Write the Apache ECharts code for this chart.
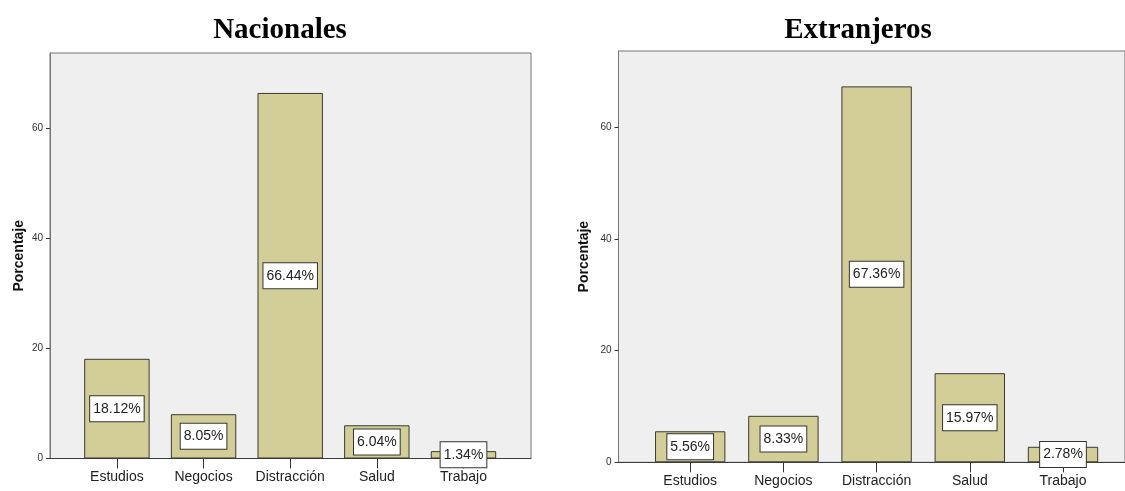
<!DOCTYPE html>
<html>
<head>
<meta charset="utf-8">
<script src="https://cdn.jsdelivr.net/npm/echarts@6/dist/echarts.min.js"></script>
<style>
  html, body { margin: 0; padding: 0; background: #ffffff; }
  #chart { width: 1125px; height: 491px; }
</style>
</head>
<body>
<div id="chart"></div>
<script>
// Motivo del viaje, en porcentaje
const categories = ['Estudios', 'Negocios', 'Distracción', 'Salud', 'Trabajo'];
const nacionales = [18.12, 8.05, 66.44, 6.04, 1.34];
const extranjeros = [5.56, 8.33, 67.36, 15.97, 2.78];
const yTicks = [0, 20, 40, 60];
const panelTitles = ['Nacionales', 'Extranjeros'];
const yName = 'Porcentaje';
const yMax = 73.7;

const BAR = '#d3ce98';
const PLOT_BG = '#efefef';

// Each panel: an outer frame grid (background, y axis, baseline) and
// an inner grid holding the category bars.
const panels = [
  { frame: { left: 50, top: 53, width: 481, height: 405.5 },
    data:  { left: 73.6, top: 53, width: 433.2, height: 405.5 },
    values: nacionales, title: panelTitles[0], titleX: 280, nameGap: 24 },
  { frame: { left: 618.5, top: 51, width: 520, height: 411.3 },
    data:  { left: 643.6, top: 51, width: 466, height: 411.3 },
    values: extranjeros, title: panelTitles[1], titleX: 858, nameGap: 27 }
];

const grid = [], xAxis = [], yAxis = [], series = [], graphic = [];

panels.forEach((p, i) => {
  const gFrame = grid.length;
  grid.push(Object.assign({ show: true, backgroundColor: PLOT_BG, borderColor: '#747474', borderWidth: 1 }, p.frame));
  const gData = grid.length;
  grid.push(Object.assign({ show: false }, p.data));

  // frame axes
  xAxis.push({
    gridIndex: gFrame, type: 'value', min: 0, max: 1,
    axisLine: { show: true, onZero: false, lineStyle: { color: '#3c3c3c', width: 1 } },
    axisTick: { show: false }, axisLabel: { show: false }, splitLine: { show: false }
  });
  yAxis.push({
    gridIndex: gFrame, type: 'value', min: 0, max: yMax,
    name: yName, nameLocation: 'middle', nameRotate: 90, nameGap: p.nameGap,
    nameTextStyle: { fontFamily: 'Liberation Sans, Arial, sans-serif', fontWeight: 'bold', fontSize: 14, color: '#111' },
    axisLine: { show: true, lineStyle: { color: '#747474', width: 1 } },
    axisTick: { show: true, length: 4, customValues: yTicks, lineStyle: { color: '#333' } },
    axisLabel: { show: true, customValues: yTicks, margin: 7, fontSize: 10,
      fontFamily: 'Liberation Sans, Arial, sans-serif', color: '#333' },
    splitLine: { show: false }
  });

  // data axes
  const xi = xAxis.length;
  xAxis.push({
    gridIndex: gData, type: 'category', data: categories,
    axisLine: { show: false },
    axisTick: { show: true, alignWithLabel: true, interval: 0, length: 10, lineStyle: { color: '#333' } },
    axisLabel: { interval: 0, margin: 12, fontSize: 14, fontFamily: 'Liberation Sans, Arial, sans-serif', color: '#222' },
    splitLine: { show: false }
  });
  const yi = yAxis.length;
  yAxis.push({
    gridIndex: gData, type: 'value', min: 0, max: yMax, show: false, splitLine: { show: false }
  });

  series.push({
    type: 'bar', xAxisIndex: xi, yAxisIndex: yi, data: p.values,
    barCategoryGap: '24.5%',
    itemStyle: { color: BAR, borderColor: '#3a3a30', borderWidth: 1 },
    label: {
      show: true, position: 'inside',
      formatter: (d) => d.value.toFixed(2) + '%',
      fontFamily: 'Liberation Sans, Arial, sans-serif', fontSize: 14, color: '#222',
      backgroundColor: '#ffffff', borderColor: '#333', borderWidth: 1,
      padding: [6, 3, 5, 3]
    },
    silent: true, animation: false
  });

  graphic.push({
    type: 'text', x: p.titleX, y: 31,
    style: { text: p.title, textAlign: 'center', textVerticalAlign: 'middle',
      font: 'bold 29px "Liberation Serif", "Times New Roman", serif', fill: '#000' }
  });
});

const chart = echarts.init(document.getElementById('chart'), null, { renderer: 'canvas' });
chart.setOption({
  animation: false,
  backgroundColor: '#ffffff',
  grid, xAxis, yAxis, series, graphic
});
</script>
</body>
</html>
